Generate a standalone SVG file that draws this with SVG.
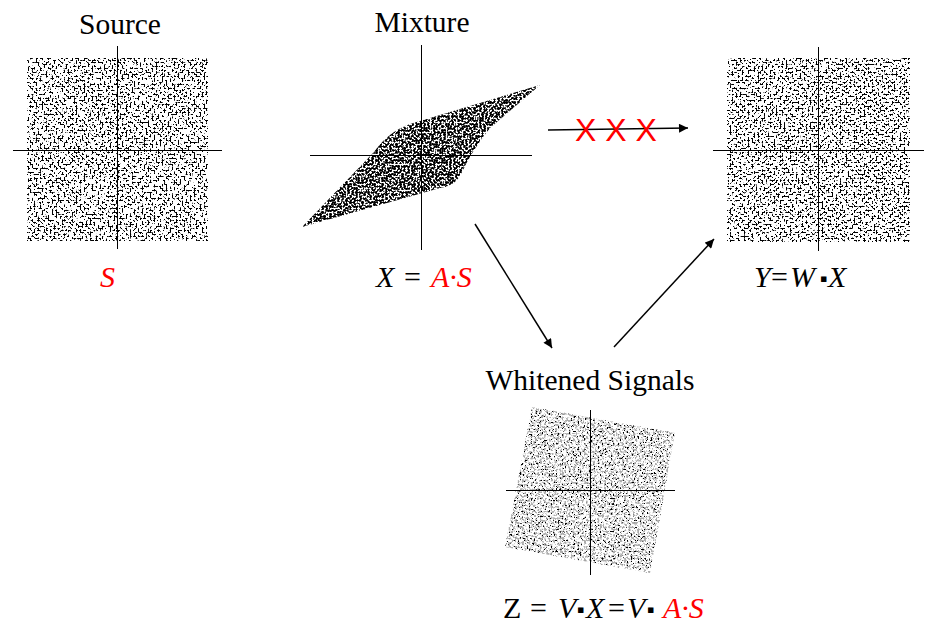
<svg xmlns="http://www.w3.org/2000/svg" width="941" height="624" viewBox="0 0 941 624">
<style>
.title{font-family:'Liberation Serif',serif;font-size:29.5px;fill:#000;text-anchor:middle}
.math{font-family:'Liberation Serif',serif;font-size:30px;font-style:italic;fill:#000}
.up{font-style:normal}
.red{fill:#ff0000}
.sq{font-family:'DejaVu Sans',sans-serif;font-style:normal;font-size:11px}
.axis{stroke:#000;stroke-width:1;fill:none}
.conn{stroke:#000;stroke-width:1.5;fill:none}
.xmark{font-family:'Liberation Sans',Arial,sans-serif;font-size:32px;fill:#ff0000;text-anchor:middle}
</style>
<defs>
<marker id="ah" viewBox="0 0 10 10" refX="10" refY="5" markerWidth="10" markerHeight="9" orient="auto" markerUnits="userSpaceOnUse">
<path d="M0,0 L10,5 L0,10 Z" fill="#000"/>
</marker>
<filter id="fSrc" x="0" y="0" width="1" height="1" color-interpolation-filters="sRGB">
<feTurbulence type="fractalNoise" baseFrequency="0.5" numOctaves="2" seed="3"/>
<feColorMatrix type="matrix" values="0 0 0 0 0  0 0 0 0 0  0 0 0 0 0  -16 0 0 0 7.4"/>
<feComposite in2="SourceAlpha" operator="in"/>
</filter>
<filter id="fSrc2" x="0" y="0" width="1" height="1" color-interpolation-filters="sRGB">
<feTurbulence type="fractalNoise" baseFrequency="0.5" numOctaves="2" seed="11"/>
<feColorMatrix type="matrix" values="0 0 0 0 0  0 0 0 0 0  0 0 0 0 0  -16 0 0 0 7.4"/>
<feComposite in2="SourceAlpha" operator="in"/>
</filter>
<filter id="fMix" x="0" y="0" width="1" height="1" color-interpolation-filters="sRGB">
<feTurbulence type="fractalNoise" baseFrequency="0.5" numOctaves="2" seed="5"/>
<feColorMatrix type="matrix" values="0 0 0 0 0  0 0 0 0 0  0 0 0 0 0  -16 0 0 0 8.7"/>
<feComposite in2="SourceAlpha" operator="in"/>
</filter>
<filter id="fWg" x="0" y="0" width="1" height="1" color-interpolation-filters="sRGB">
<feTurbulence type="fractalNoise" baseFrequency="0.45" numOctaves="2" seed="21"/>
<feColorMatrix type="matrix" values="0 0 0 0 0.68  0 0 0 0 0.68  0 0 0 0 0.68  -8 0 0 0 4.1"/>
<feComposite in2="SourceAlpha" operator="in"/>
</filter>
<filter id="fWb" x="0" y="0" width="1" height="1" color-interpolation-filters="sRGB">
<feTurbulence type="fractalNoise" baseFrequency="0.55" numOctaves="2" seed="8"/>
<feColorMatrix type="matrix" values="0 0 0 0 0  0 0 0 0 0  0 0 0 0 0  -16 0 0 0 5.7"/>
<feComposite in2="SourceAlpha" operator="in"/>
</filter>
</defs>
<rect width="941" height="624" fill="#fff"/>

<g id="source">
<text class="title" x="120" y="34">Source</text>
<rect x="27" y="58" width="181" height="183" fill="#000" filter="url(#fSrc)"/>
<line class="axis" x1="13" y1="150.5" x2="222" y2="150.5"/>
<line class="axis" x1="117.5" y1="46" x2="117.5" y2="249"/>
<text class="math red" x="100" y="287">S</text>
</g>

<g id="mixture">
<text class="title" x="422" y="32">Mixture</text>
<path d="M302,227 L374,152 Q388,132 410,124 L540,85 L490,128 Q472,150 460,176 Q454,186 440,188 Z" fill="#000" filter="url(#fMix)"/>
<line class="axis" x1="310" y1="155.5" x2="532" y2="155.5"/>
<line class="axis" x1="421.5" y1="45" x2="421.5" y2="250"/>
<text class="math" y="287"><tspan x="376">X</tspan><tspan class="up" x="404">=</tspan><tspan class="red" x="431">A·S</tspan></text>
</g>

<g id="result">
<rect x="727" y="58" width="183" height="184" fill="#000" filter="url(#fSrc2)"/>
<line class="axis" x1="713" y1="150.5" x2="924" y2="150.5"/>
<line class="axis" x1="818.5" y1="47" x2="818.5" y2="251"/>
<text class="math" y="287"><tspan x="754">Y</tspan><tspan class="up" x="771">=</tspan><tspan x="790">W</tspan><tspan class="sq" x="820" dy="-5">▪</tspan><tspan x="828" dy="5">X</tspan></text>
</g>

<g id="whitened">
<text class="title" x="590" y="390">Whitened Signals</text>
<polygon points="532,407 675,433 650,573 505,547" fill="#000" filter="url(#fWg)"/>
<polygon points="532,407 675,433 650,573 505,547" fill="#000" filter="url(#fWb)"/>
<line class="axis" x1="506" y1="490.5" x2="675" y2="490.5"/>
<line class="axis" x1="590.5" y1="410" x2="590.5" y2="575"/>
<text class="math" y="618"><tspan class="up" x="503">Z</tspan><tspan class="up" x="530">=</tspan><tspan x="558">V</tspan><tspan class="sq" x="577" dy="-5">▪</tspan><tspan x="586" dy="5">X</tspan><tspan class="up" x="608">=</tspan><tspan x="627">V</tspan><tspan class="sq" x="647" dy="-5">▪</tspan><tspan class="red" x="663" dy="5">A·S</tspan></text>
</g>

<g id="connectors">
<line class="conn" x1="548" y1="130" x2="688" y2="128" marker-end="url(#ah)"/>
<text class="xmark" x="616" y="141">X X X</text>
<line class="conn" x1="475" y1="224" x2="552" y2="348" marker-end="url(#ah)"/>
<line class="conn" x1="614" y1="347" x2="714" y2="239" marker-end="url(#ah)"/>
</g>
</svg>
